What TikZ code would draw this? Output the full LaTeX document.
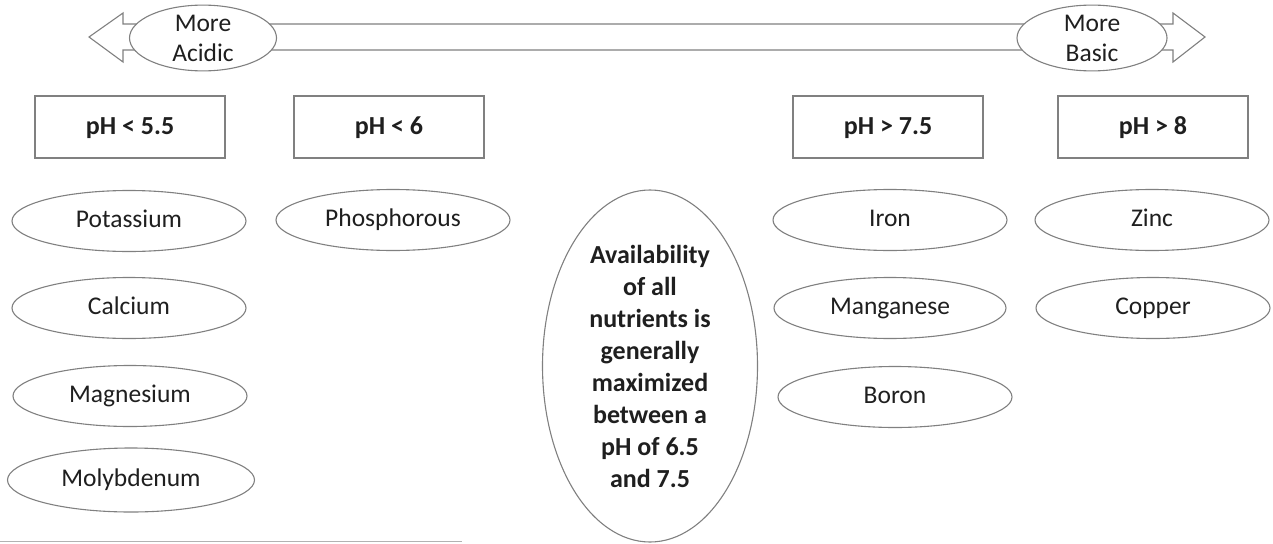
\documentclass[tikz,border=0pt]{standalone}
\usepackage{fontspec}
\setmainfont{Carlito}
\usepackage{tikz}
\usetikzlibrary{shapes.geometric}

\begin{document}
\begin{tikzpicture}[x=1pt,y=-1pt]
        \tikzstyle{every node}+=[inner sep=0pt, text=black!88]
        \tikzstyle{oval}=[draw=black!50, fill=white, ellipse, line width=1.1pt, minimum width=234pt, minimum height=61pt, font=\fontsize{25.5}{30}\selectfont]
        \tikzstyle{nutrient}=[oval, text height=18pt, text depth=5pt]
        \tikzstyle{phbox}=[draw=black!50, fill=white, rectangle, line width=1.1pt, minimum width=190pt, minimum height=62pt, text height=19pt, text depth=5pt, font=\fontsize{26}{31}\selectfont\bfseries]
        \useasboundingbox (0,0) rectangle (1273,543);
        % pH scale arrow
        \draw [black!50, line width=1.1pt, fill=white] (89,37) -- (123,13) -- (123,24) -- (1173,24) -- (1173,13) -- (1205,37) -- (1173,62) -- (1173,50) -- (123,50) -- (123,62) -- cycle;
        \node (acid) at (203,38) [oval, minimum width=147pt, align=center] {More\\Acidic};
        \node (basic) at (1092,38) [oval, minimum width=150pt, align=center] {More\\Basic};
        % ranges
        \node (r1) at (130,127) [phbox] {pH < 5.5};
        \node (r2) at (389,127) [phbox] {pH < 6};
        \node (r3) at (888,127) [phbox] {pH > 7.5};
        \node (r4) at (1153,127) [phbox] {pH > 8};
        % nutrients
        \node (potassium) at (129,221) [nutrient] {Potassium};
        \node (calcium) at (129,308) [nutrient] {Calcium};
        \node (magnesium) at (130,396) [nutrient] {Magnesium};
        \node (molybdenum) at (131,480) [nutrient, minimum width=247pt, minimum height=64pt] {Molybdenum};
        \node (phosphorous) at (393,220) [nutrient] {Phosphorous};
        \node (iron) at (890,220) [nutrient] {Iron};
        \node (manganese) at (890,308) [nutrient, minimum width=232pt] {Manganese};
        \node (boron) at (895,397) [nutrient] {Boron};
        \node (zinc) at (1152,220) [nutrient] {Zinc};
        \node (copper) at (1153,308) [nutrient] {Copper};
        \node (optimum) at (650,366) [oval, minimum width=215pt, minimum height=352pt, align=center, font=\fontsize{26}{32}\selectfont\bfseries] {Availability\\of all\\nutrients is\\generally\\maximized\\between a\\pH of 6.5\\and 7.5};
        \draw [black!30, line width=1pt] (0,541) -- (462,541);
\end{tikzpicture}
\end{document}
